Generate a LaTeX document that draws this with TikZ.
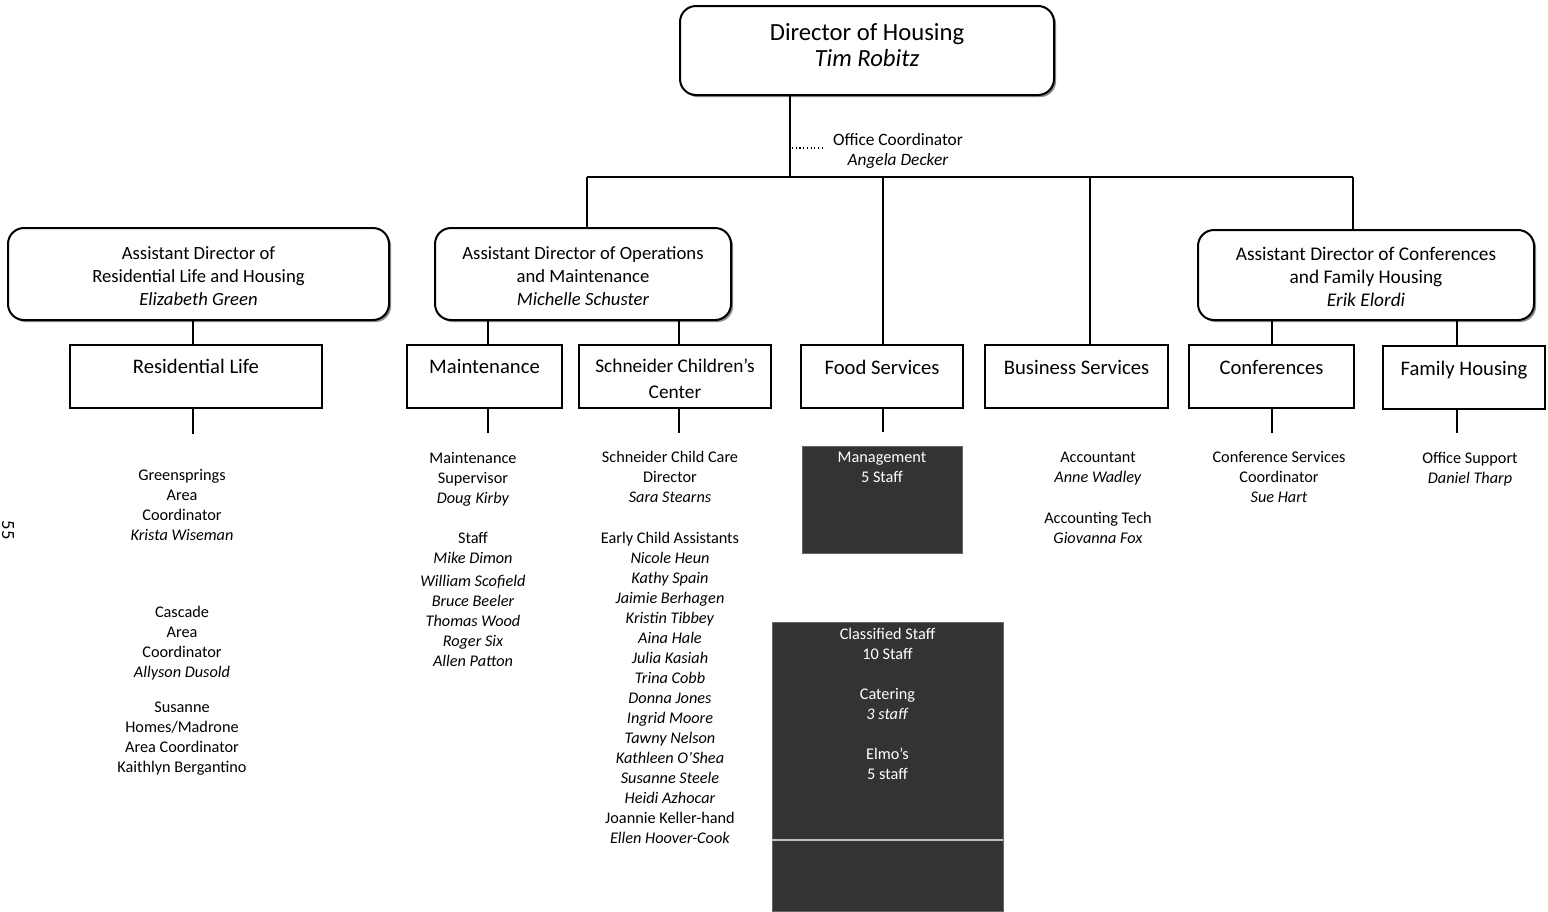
\documentclass[tikz,border=0pt]{standalone}
\usepackage{fontspec}
\setmainfont{Carlito}
\usetikzlibrary{shadows}
\begin{document}
\begin{tikzpicture}[x=0.75pt,y=-0.75pt,
 every node/.style={inner sep=0pt, outer sep=0pt},
 conn/.style={line width=1.5pt},
 rbox/.style={draw, line width=1.5pt, rounded corners=12pt, fill=white,
   drop shadow={shadow xshift=1.6pt, shadow yshift=-1.6pt, fill=black!45, opacity=1}},
 sbox/.style={draw, line width=1.5pt, fill=white, minimum height=47.25pt},
 dbox/.style={fill=black!80, draw=black!60, line width=0.5pt},
 big/.style={font=\fontsize{18.5}{19.5}\selectfont, align=center, anchor=north},
 lab/.style={font=\fontsize{15.5}{19.5}\selectfont, align=center, anchor=north},
 adtxt/.style={font=\fontsize{14}{17.25}\selectfont, align=center, anchor=north},
 small/.style={font=\fontsize{12.2}{15}\selectfont, align=center, anchor=north},
 dtxt/.style={small, text=white}
]
\useasboundingbox (0,0) rectangle (1548,911);

% top
\node[rbox, minimum width=280.5pt, minimum height=66.75pt] (dir) at (867,50.5) {};
\node[big] (dirT) at (867,24) {Director of Housing\\\textit{Tim Robitz}};
\node[small, font=\fontsize{13}{15}\selectfont] (off) at (898,133) {Office Coordinator\\\textit{Angela Decker}};

% assistant directors
\node[rbox, minimum width=285.75pt, minimum height=69pt] (adl) at (198.5,274) {};
\node[adtxt] (adlT) at (198.5,246.5) {Assistant Director of\\Residential Life and Housing\\\textit{Elizabeth Green}};
\node[rbox, minimum width=222pt, minimum height=69pt] (adm) at (583,274) {};
\node[adtxt] (admT) at (583,246.5) {Assistant Director of Operations\\and Maintenance\\\textit{Michelle Schuster}};
\node[rbox, minimum width=252pt, minimum height=67.5pt] (adr) at (1366,275) {};
\node[adtxt, font=\fontsize{14.5}{17.25}\selectfont] (adrT) at (1366,247.5) {Assistant Director of Conferences\\and Family Housing\\\textit{Erik Elordi}};

% unit boxes
\node[sbox, minimum width=189pt] (rl) at (196,376.5) {};
\node[lab] (rlT) at (196,359.5) {Residential Life};
\node[sbox, minimum width=116.25pt] (mt) at (484.5,376.5) {};
\node[lab] (mtT) at (484.5,359.5) {Maintenance};
\node[sbox, minimum width=144pt] (sc) at (675,376.5) {};
\node[lab, font=\fontsize{14.5}{19.5}\selectfont] (scT) at (675,359) {Schneider Children’s\\Center};
\node[sbox, minimum width=121.5pt] (fd) at (882,376.5) {};
\node[lab] (fdT) at (882,360.5) {Food Services};
\node[sbox, minimum width=137.25pt] (bs) at (1076.5,376.5) {};
\node[lab] (bsT) at (1076.5,360.5) {Business Services};
\node[sbox, minimum width=123.75pt] (cf) at (1271.5,376.5) {};
\node[lab] (cfT) at (1271.5,360.5) {Conferences};
\node[sbox, minimum width=121.5pt] (fh) at (1464,377.5) {};
\node[lab] (fhT) at (1464,361.5) {Family Housing};

% coordinates
\coordinate (j0) at (790,177);
\coordinate (bl) at (587,177);
\coordinate (br) at (1353,177);
\coordinate (bj) at (1090,177);
\coordinate (oc) at (792,148);
\coordinate (ocE) at (822,148);
\coordinate (rlE) at (193,434);
\coordinate (mtE) at (488,433);
\coordinate (scE) at (679,433);
\coordinate (fdE) at (883,432);
\coordinate (cfE) at (1272,433);
\coordinate (fhE) at (1457,433);

% connectors
\draw[conn] (dir.south -| j0) -- (j0);
\draw[dotted, line width=0.8pt] (oc) -- (ocE);
\draw[conn] (bl) -- (br);
\draw[conn] (bl) -- (bl |- adm.north);
\draw[conn] (fdE |- bl) -- (fdE |- fd.north);
\draw[conn] (bj) -- (bj |- bs.north);
\draw[conn] (br) -- (br |- adr.north);
\draw[conn] (rlE |- adl.south) -- (rlE |- rl.north);
\draw[conn] (mtE |- adm.south) -- (mtE |- mt.north);
\draw[conn] (scE |- adm.south) -- (scE |- sc.north);
\draw[conn] (cfE |- adr.south) -- (cfE |- cf.north);
\draw[conn] (fhE |- adr.south) -- (fhE |- fh.north);
\draw[conn] (rlE |- rl.south) -- (rlE);
\draw[conn] (mtE |- mt.south) -- (mtE);
\draw[conn] (scE |- sc.south) -- (scE);
\draw[conn] (fdE |- fd.south) -- (fdE);
\draw[conn] (cfE |- cf.south) -- (cfE);
\draw[conn] (fhE |- fh.south) -- (fhE);

% staff lists
\node[small] (gs) at (182,469) {Greensprings\\Area\\Coordinator\\\textit{Krista Wiseman}};
\node[small] (cas) at (182,606) {Cascade\\Area\\Coordinator\\\textit{Allyson Dusold}};
\node[small] (sus) at (182,701.5) {Susanne\\Homes/Madrone\\Area Coordinator\\Kaithlyn Bergantino};

\node[small] (ms) at (473,452) {Maintenance\\Supervisor\\\textit{Doug Kirby}};
\node[small] (mst) at (473,532) {Staff\\\textit{Mike Dimon}\\[2.25pt]\textit{William Scofield}\\\textit{Bruce Beeler}\\\textit{Thomas Wood}\\\textit{Roger Six}\\\textit{Allen Patton}};

\node[small] (scd) at (670,451) {Schneider Child Care\\Director\\\textit{Sara Stearns}};
\node[small] (eca) at (670,532) {Early Child Assistants\\\textit{Nicole Heun}\\\textit{Kathy Spain}\\\textit{Jaimie Berhagen}\\\textit{Kristin Tibbey}\\\textit{Aina Hale}\\\textit{Julia Kasiah}\\\textit{Trina Cobb}\\\textit{Donna Jones}\\\textit{Ingrid Moore}\\\textit{Tawny Nelson}\\\textit{Kathleen O’Shea}\\\textit{Susanne Steele}\\\textit{Heidi Azhocar}\\Joannie Keller-hand\\\textit{Ellen Hoover-Cook}};

\node[small] (acc) at (1098,452) {Accountant\\\textit{Anne Wadley}};
\node[small] (act) at (1098,512) {Accounting Tech\\\textit{Giovanna Fox}};
\node[small] (csc) at (1279,451) {Conference Services\\Coordinator\\\textit{Sue Hart}};
\node[small] (os) at (1470,452) {Office Support\\\textit{Daniel Tharp}};

% dark boxes
\node[dbox, minimum width=120pt, minimum height=80.25pt] (mg) at (882,499.5) {};
\node[dtxt] (mgT) at (882,452.5) {Management\\5 Staff};
\node[dbox, minimum width=173.25pt, minimum height=216.75pt] (cl) at (887.5,766.5) {};
\node[dtxt] (clT) at (887.5,628.5) {Classified Staff\\10 Staff\\[14.5pt]Catering\\\textit{3 staff}\\[15pt]Elmo’s\\5 staff};
\coordinate (clL) at (772,840);
\coordinate (clR) at (1003,840);
\draw[white!75!black, line width=0.8pt] (clL) -- (clR);

% page number
\node[font=\fontsize{14}{14}\selectfont, rotate=-90] (pg) at (8,530) {55};
\end{tikzpicture}
\end{document}
